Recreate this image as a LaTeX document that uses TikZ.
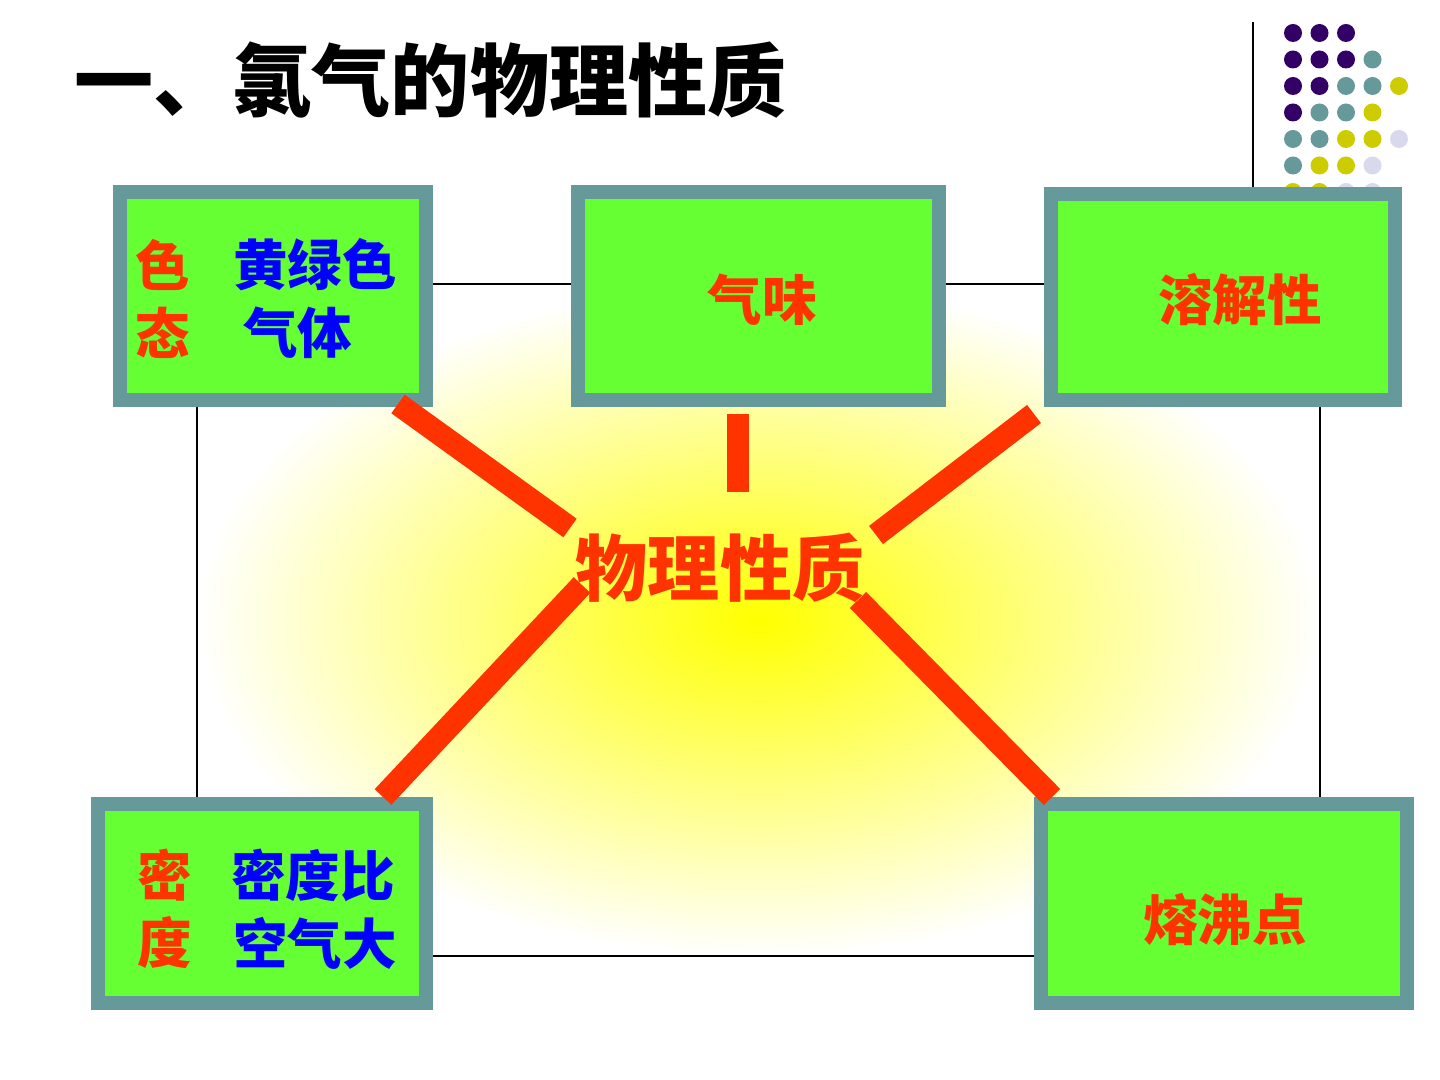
\documentclass[tikz,border=0pt]{standalone}
\usepackage{fontspec}
\setmainfont{Noto Sans CJK SC}
\usetikzlibrary{positioning}
\definecolor{boxgreen}{HTML}{66FF33}
\definecolor{boxrim}{HTML}{669999}
\definecolor{linered}{HTML}{FF3300}
\definecolor{txtblue}{HTML}{0000FF}
\definecolor{dotP}{HTML}{330066}
\definecolor{dotT}{HTML}{669999}
\definecolor{dotY}{HTML}{CCCC00}
\definecolor{dotL}{HTML}{D9D9EE}
\tikzset{
  prop box/.style={draw=boxrim,line width=4pt,fill=boxgreen,inner sep=0pt},
  spoke/.style={draw=linered,line width=6.5pt},
  red text/.style={text=linered,font=\fontsize{15.5}{18}\selectfont\bfseries},
  blue text/.style={text=txtblue,font=\fontsize{15.5}{18}\selectfont\bfseries},
}
\begin{document}
\begin{tikzpicture}[x=0.01cm,y=-0.01cm]
\useasboundingbox (0,0) rectangle (1440,1080);
% Background frame with glow
\shade[inner color=yellow,outer color=white] (197,284) rectangle (1320,956);
\draw[thin] (197,284) rectangle (1320,956);

% Title
\node[anchor=west,font=\fontsize{22.5}{26}\selectfont\bfseries] (title) at (62,80) {一、氯气的物理性质};

% Decoration
\draw[thin] (1253,22) -- (1253,190);
\foreach \row/\cols in {0/{P,P,P},1/{P,P,P,T},2/{P,P,T,T,Y},3/{P,T,T,Y},4/{T,T,Y,Y,L},5/{T,Y,Y,L},6/{Y,Y,L,L}}
  \foreach \c [count=\i from 0] in \cols
    \fill[dot\c] (1293+26.5*\i,33+26.5*\row) circle (9);

% Boxes
\path[prop box] (120,192) rectangle (426,400);
\path[prop box] (578,192) rectangle (939,400);
\path[prop box] (1051,194) rectangle (1395,400);
\path[prop box] (98,804) rectangle (426,1003);
\path[prop box] (1041,804) rectangle (1407,1003);

% Box texts
\node[red text] (colour) at (163,265) {色};
\node[blue text] (colourval) at (315,265) {黄绿色};
\node[red text] (state) at (163,333) {态};
\node[blue text,anchor=west] (stateval) at (231,333) {气体};
\node[red text] (smell) at (762,300) {气味};
\node[red text] (solub) at (1240,300) {溶解性};
\node[red text] (dens1) at (165,875) {密};
\node[blue text] (densval) at (313,875) {密度比};
\node[red text] (dens2) at (165,943) {度};
\node[blue text] (densval2) at (315,943) {空气大};
\node[red text] (boil) at (1225,920) {熔沸点};

% Centre
\node[text=linered,font=\fontsize{20.5}{24}\selectfont\bfseries] (phys) at (720,568) {物理性质};

% Spokes
\coordinate (s1) at (398,404); \coordinate (e1) at (570,528);
\coordinate (s2) at (738,414); \coordinate (e2) at (738,492);
\coordinate (s3) at (1034,414); \coordinate (e3) at (876,535);
\coordinate (s4) at (383,797); \coordinate (e4) at (582,585);
\coordinate (s5) at (1052,797); \coordinate (e5) at (858,600);
\foreach \k in {1,...,5} \draw[spoke] (s\k) -- (e\k);
\end{tikzpicture}
\end{document}
